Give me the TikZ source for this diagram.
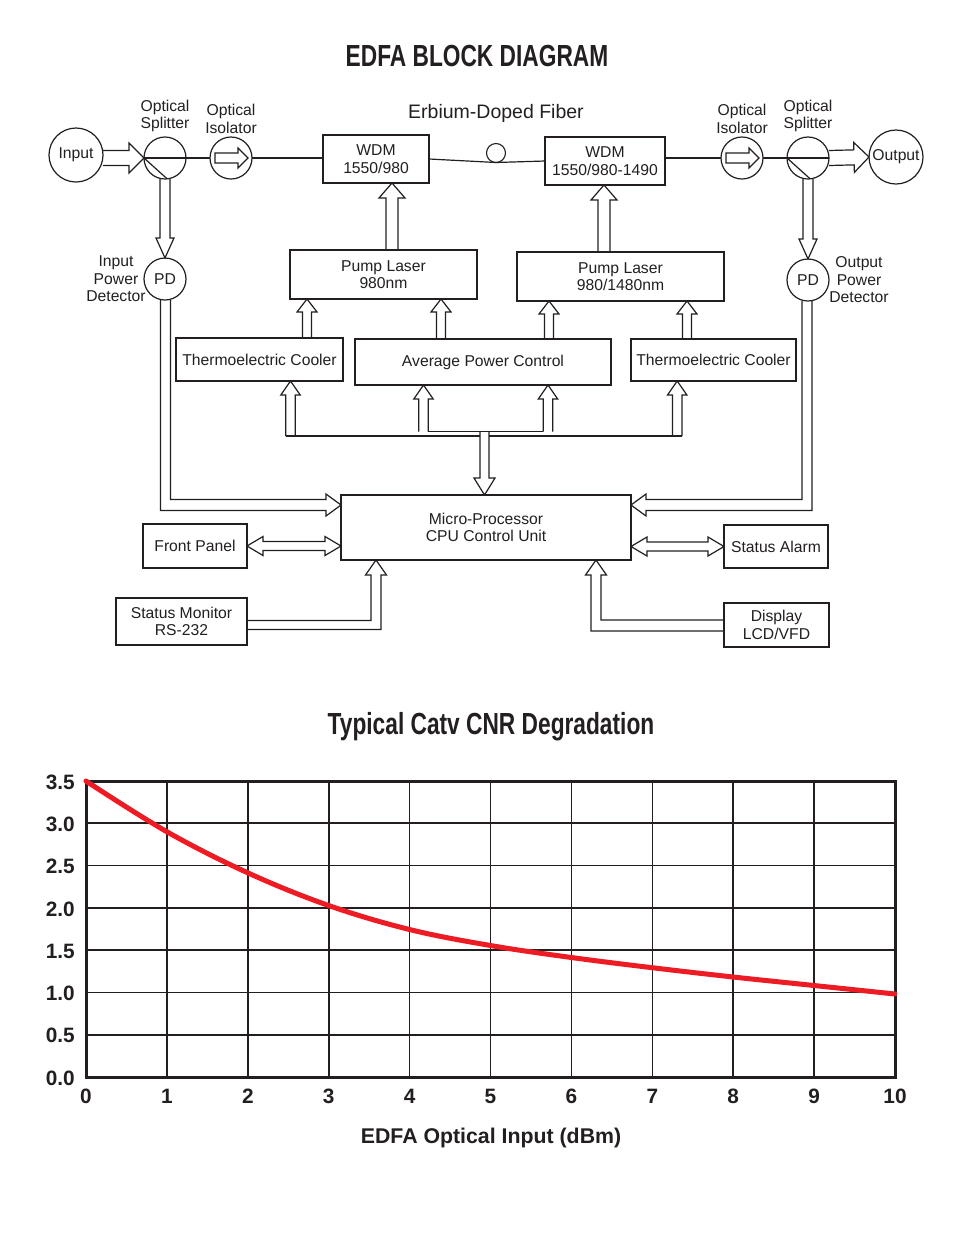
\documentclass[tikz,border=0pt]{standalone}
\usepackage{fontspec}
\setmainfont{Liberation Sans}
\usetikzlibrary{calc}
\definecolor{ink}{RGB}{35,31,32}
\definecolor{curvered}{RGB}{237,28,36}
\newcommand\mysz{\fontsize{15.7}{17.5}\selectfont}
\newcommand\bigsz{\fontsize{19.5}{22}\selectfont}
\newcommand\ticksz{\fontsize{20.8}{22}\selectfont\bfseries}
\tikzset{
  harrow/.style args={#1/#2/#3}{to path={let \p1=(\tikztostart), \p2=(\tikztotarget),
    \n1={atan2(\y2-\y1,\x2-\x1)}, \n2={veclen(\x2-\x1,\y2-\y1)} in
    ($(\p1)+(\n1+90:#1)$) -- ($(\p1)+(\n1:\n2-#3)+(\n1+90:#1)$) -- ($(\p1)+(\n1:\n2-#3)+(\n1+90:#2)$)
    -- (\p2) -- ($(\p1)+(\n1:\n2-#3)+(\n1-90:#2)$) -- ($(\p1)+(\n1:\n2-#3)+(\n1-90:#1)$) -- ($(\p1)+(\n1-90:#1)$)}},
  harrowc/.style args={#1/#2/#3}{to path={let \p1=(\tikztostart), \p2=(\tikztotarget),
    \n1={atan2(\y2-\y1,\x2-\x1)}, \n2={veclen(\x2-\x1,\y2-\y1)} in
    ($(\p1)+(\n1+90:#1)$) -- ($(\p1)+(\n1:\n2-#3)+(\n1+90:#1)$) -- ($(\p1)+(\n1:\n2-#3)+(\n1+90:#2)$)
    -- (\p2) -- ($(\p1)+(\n1:\n2-#3)+(\n1-90:#2)$) -- ($(\p1)+(\n1:\n2-#3)+(\n1-90:#1)$) -- ($(\p1)+(\n1-90:#1)$) -- cycle}},
  harrowtwo/.style args={#1/#2/#3}{to path={let \p1=(\tikztostart), \p2=(\tikztotarget),
    \n1={atan2(\y2-\y1,\x2-\x1)}, \n2={veclen(\x2-\x1,\y2-\y1)} in
    (\p1) -- ($(\p1)+(\n1:#3)+(\n1+90:#2)$) -- ($(\p1)+(\n1:#3)+(\n1+90:#1)$)
    -- ($(\p1)+(\n1:\n2-#3)+(\n1+90:#1)$) -- ($(\p1)+(\n1:\n2-#3)+(\n1+90:#2)$)
    -- (\p2) -- ($(\p1)+(\n1:\n2-#3)+(\n1-90:#2)$) -- ($(\p1)+(\n1:\n2-#3)+(\n1-90:#1)$)
    -- ($(\p1)+(\n1:#3)+(\n1-90:#1)$) -- ($(\p1)+(\n1:#3)+(\n1-90:#2)$) -- cycle}},
  box/.style={draw, line width=1.2pt, align=center, inner sep=0pt, outer sep=0pt, font=\mysz},
  thick box/.style={box, line width=2pt},
  mid box/.style={box, line width=1.5pt},
  ring/.style={draw, circle, line width=1.2pt, inner sep=0pt, outer sep=0pt, font=\mysz},
  lbl/.style={align=center, inner sep=0pt, font=\mysz},
  conn/.style={line width=1.2pt},
  gridline/.style={line width=1.6pt},
}
\begin{document}
\begin{tikzpicture}[x=1pt,y=-1pt,color=ink,every node/.style={text=ink}]
\useasboundingbox[fill=white] (0,0) rectangle (954,1235);

% ---------- title ----------
\node (title) at (477,56) {\scalebox{0.745}[1]{\fontsize{30.5}{32}\selectfont\bfseries EDFA BLOCK DIAGRAM}};

% ---------- optical path ----------
\node[ring, minimum size=54pt] (input) at (76,155) {\raisebox{-2pt}{Input}};
\node[ring, minimum size=42pt] (spl1) at (165,158) {};
\node[ring, minimum size=42pt] (iso1) at (231,158) {};
\node[box, minimum width=106pt, minimum height=48pt] (wdm1) at (376,159) {WDM\\1550/980};
\node[ring, minimum size=19pt, line width=1.1pt] (coil) at (496,153) {};
\node[box, minimum width=120pt, minimum height=48pt] (wdm2) at (605,161) {WDM\\1550/980-1490};
\node[ring, minimum size=42pt] (iso2) at (742,158) {};
\node[ring, minimum size=42pt] (spl2) at (808,158) {};
\node[ring, minimum size=54pt] (output) at (896,157) {\raisebox{-2pt}{Output}};
\node[ring, minimum size=42pt] (pd1) at (165,279) {PD};
\node[ring, minimum size=42pt] (pd2) at (808,280) {PD};

\node[lbl] (l-spl1) at (165,116) {Optical\\Splitter};
\node[lbl] (l-iso1) at (231,119) {Optical\\Isolator};
\node[lbl] (l-iso2) at (742,119) {Optical\\Isolator};
\node[lbl] (l-spl2) at (808,116) {Optical\\Splitter};
\node[lbl, font=\bigsz] (l-edf) at (496,113) {Erbium-Doped Fiber};
\node[lbl] (l-pd1) at (116,279) {Input\\Power\\Detector};
\node[lbl] (l-pd2) at (859,280) {Output\\Power\\Detector};

% fibre lines
\draw[conn] (spl1.west) -- (iso1.west);
\draw[conn] (spl1.west) -- (spl1.-84);
\draw[conn] (iso1.east) -- (iso1.east -| wdm1.west);
\draw[conn] (wdm1.east) -- (coil.south) -- (wdm2.west);
\draw[conn] (wdm2.east |- iso2.west) -- (iso2.west);
\draw[conn] (iso2.east) -- (spl2.east);
\draw[conn] (spl2.west) -- (spl2.-84);

% isolator arrows
\draw[conn, harrowc=5pt/10pt/10pt] ($(iso1.center)+(-16,0)$) to ($(iso1.center)+(17,0)$);
\draw[conn, harrowc=5pt/10pt/10pt] ($(iso2.center)+(-16,0)$) to ($(iso2.center)+(17,0)$);

% hollow optical arrows
\draw[conn, harrow=7.5pt/15pt/15pt] (spl1.west -| input.east) to (spl1.west);
\draw[conn, harrow=7.5pt/15pt/15pt] (spl2.east) to (output.west);
\draw[conn, harrow=5pt/9pt/20pt] (spl1.south) to (pd1.north);
\draw[conn, harrow=5pt/9pt/20pt] (spl2.south) to (pd2.north);

% ---------- electronics ----------
\node[thick box, minimum width=187pt, minimum height=49pt] (pump1) at (383.5,274.5) {Pump Laser\\980nm};
\node[thick box, minimum width=207pt, minimum height=49pt] (pump2) at (620.5,276.5) {Pump Laser\\980/1480nm};
\node[mid box, minimum width=167pt, minimum height=43pt] (tec1) at (259.5,359.5) {Thermoelectric Cooler};
\node[thick box, minimum width=256pt, minimum height=46pt] (apc) at (483,362) {Average Power Control};
\node[box, minimum width=165pt, minimum height=42pt] (tec2) at (713.5,360) {Thermoelectric Cooler};
\node[box, minimum width=290pt, minimum height=65pt] (mp) at (486,527.5) {Micro-Processor\\CPU Control Unit};
\node[mid box, minimum width=104pt, minimum height=44pt] (fp) at (195,546) {Front Panel};
\node[mid box, minimum width=104pt, minimum height=43pt] (sa) at (776,546.5) {Status Alarm};
\node[thick box, minimum width=131pt, minimum height=47pt] (sm) at (181.5,621.5) {Status Monitor\\RS-232};
\node[thick box, minimum width=105pt, minimum height=44pt] (disp) at (776.5,625) {Display\\LCD/VFD};

% pump -> WDM
\coordinate (pa) at (392,0);
\coordinate (pb) at (604,0);
\draw[conn, harrow=6pt/13pt/15pt] (pa |- pump1.north) to (pa |- wdm1.south);
\draw[conn, harrow=6pt/13pt/15pt] (pb |- pump2.north) to (pb |- wdm2.south);

% TEC / APC -> pump
\coordinate (ua) at (307,0);
\coordinate (ub) at (441,0);
\coordinate (uc) at (549,0);
\coordinate (ud) at (687,0);
\draw[conn, harrow=4.5pt/10pt/13pt] (ua |- tec1.north) to (ua |- pump1.south);
\draw[conn, harrow=4.5pt/10pt/13pt] (ub |- apc.north) to (ub |- pump1.south);
\draw[conn, harrow=4.5pt/10pt/13pt] (uc |- apc.north) to (uc |- pump2.south);
\draw[conn, harrow=4.5pt/10pt/13pt] (ud |- tec2.north) to (ud |- pump2.south);

% control bus
\coordinate (busA) at (290.5,436);
\coordinate (busB) at (423.5,431.7);
\coordinate (busC) at (548,431.7);
\coordinate (busD) at (677.2,436);
\coordinate (busM) at (484.5,431.7);
\draw[conn, harrow=4.7pt/9.7pt/14pt] (busA) to (busA |- tec1.south);
\draw[conn, harrow=4.7pt/9.7pt/14pt] (busB) to (busB |- apc.south);
\draw[conn, harrow=4.7pt/9.7pt/14pt] (busC) to (busC |- apc.south);
\draw[conn, harrow=4.7pt/9.7pt/14pt] (busD) to (busD |- tec2.south);
\draw[conn] ($(busA)+(-4.7,0)$) -- ($(busM |- busA)+(-4.5,0)$);
\draw[conn] ($(busM |- busA)+(4.5,0)$) -- ($(busD)+(4.7,0)$);
\draw[conn] ($(busB)+(4.7,0)$) -- ($(busC)+(-4.7,0)$);
\draw[conn, harrow=4.5pt/10.5pt/17pt] (busM) to (busM |- mp.north);

% PD -> micro-processor
\coordinate (t1) at ($(mp.north west)+(0,10)$);
\coordinate (t2) at ($(mp.north east)+(0,10)$);
\draw[conn] ($(pd1.south)+(-4.5,0)$) |- ($(t1)+(-15,5.5)$) -- ($(t1)+(-15,11)$) -- (t1)
  -- ($(t1)+(-15,-11)$) -- ($(t1)+(-15,-5.5)$) -| ($(pd1.south)+(5.5,0)$);
\draw[conn] ($(pd2.south)+(4,0)$) |- ($(t2)+(15,5.5)$) -- ($(t2)+(15,11)$) -- (t2)
  -- ($(t2)+(15,-11)$) -- ($(t2)+(15,-5.5)$) -| ($(pd2.south)+(-6,0)$);

% bidirectional
\draw[conn, harrowtwo=4.5pt/9.5pt/16pt] (fp.east) to (mp.west |- fp.east);
\draw[conn, harrowtwo=4.5pt/9.5pt/16pt] (mp.east |- sa.west) to (sa.west);

% status monitor / display -> micro-processor
\coordinate (t3) at ($(mp.south west)+(35,0)$);
\coordinate (t4) at ($(mp.south east)+(-35,0)$);
\draw[conn] ($(sm.east)+(0,-1)$) -| ($(t3)+(-5,15)$) -- ($(t3)+(-10.5,15)$) -- (t3)
  -- ($(t3)+(10.5,15)$) -- ($(t3)+(5,15)$) |- ($(sm.east)+(0,8)$);
\draw[conn] ($(disp.west)+(0,-5)$) -| ($(t4)+(5,15)$) -- ($(t4)+(10.5,15)$) -- (t4)
  -- ($(t4)+(-10.5,15)$) -- ($(t4)+(-5,15)$) |- ($(disp.west)+(0,6)$);

% ---------- chart ----------
\node (title2) at (491,727) {\scalebox{0.745}[1]{\fontsize{30.5}{32}\selectfont\bfseries Typical Catv CNR Degradation}};
\foreach \i in {1,...,9}
  \draw[gridline] ({86+80.9*\i},781) -- ({86+80.9*\i},1077);
\foreach \k in {1,...,6}
  \draw[gridline] (86,{1077-42.29*\k}) -- (895,{1077-42.29*\k});
\draw[line width=3pt] (86,781) rectangle (895,1077);
\draw[curvered, line width=5pt, line cap=round] plot[smooth, tension=0.6] coordinates {
  (86,781) (166.9,831.7) (247.8,872.8) (328.7,905.5) (409.6,929.5) (490.5,945.5)
  (571.4,957.5) (652.3,967.7) (733.2,977) (814.1,985.5) (895,994)};
\foreach \v [count=\k from 0] in {0.0,0.5,1.0,1.5,2.0,2.5,3.0,3.5}
  \node[anchor=east, inner sep=0pt, font=\ticksz] (ylab\k) at (75,{1078-42.29*\k}) {\v};
\foreach \i in {0,...,10}
  \node[inner sep=0pt, font=\ticksz] (xlab\i) at ({86+80.9*\i},1096) {\i};
\node[inner sep=0pt, font=\fontsize{21.3}{23}\selectfont\bfseries] (xtitle) at (491,1138) {EDFA Optical Input (dBm)};
\end{tikzpicture}
\end{document}
